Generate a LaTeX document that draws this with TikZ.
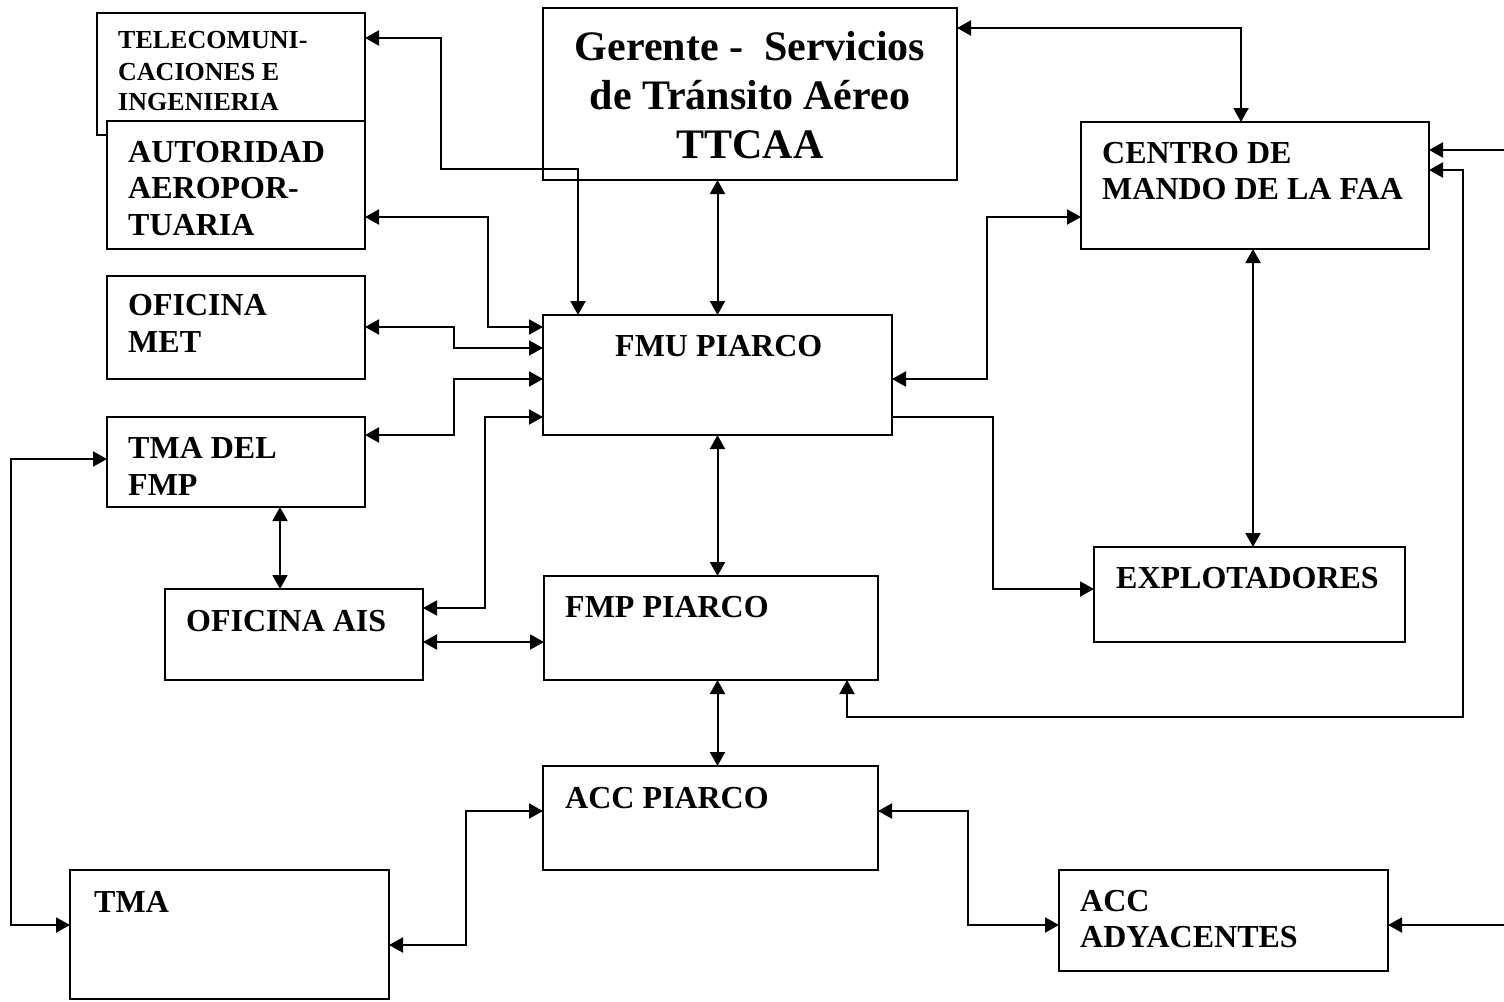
\documentclass[tikz,border=0pt]{standalone}
\usepackage{fontspec}
\setmainfont{Liberation Serif}
\usetikzlibrary{arrows.meta}
\tikzset{
  box/.style={draw, line width=2pt, fill=white, inner sep=0pt, outer sep=0pt, anchor=north west},
  lbl/.style={inner sep=0pt, anchor=base west, font=\bfseries\fontsize{32}{38}\selectfont},
  smalllbl/.style={lbl, font=\bfseries\fontsize{26}{31}\selectfont},
  biglbl/.style={inner sep=0pt, anchor=base, font=\bfseries\fontsize{42}{49}\selectfont},
  tip/.style={Triangle[length=14pt,width=15pt]},
  link/.style={draw, line width=2pt, {Triangle[length=14pt,width=15pt]}-{Triangle[length=14pt,width=15pt]}},
  link1/.style={draw, line width=2pt, -{Triangle[length=14pt,width=15pt]}}
}
\begin{document}
\begin{tikzpicture}[x=1pt,y=-1pt]
\useasboundingbox (0,0) rectangle (1504,1001);
\fill[white] (0,0) rectangle (1504,1001);

% boxes
\node[box, minimum width=268pt, minimum height=122pt] (tele) at (97,13) {};
\node[box, minimum width=258pt, minimum height=128pt] (auto) at (107,121) {};
\node[box, minimum width=258pt, minimum height=103pt] (met) at (107,276) {};
\node[box, minimum width=258pt, minimum height=90pt] (tmafmp) at (107,417) {};
\node[box, minimum width=258pt, minimum height=91pt] (ais) at (165,589) {};
\node[box, minimum width=319pt, minimum height=129pt] (tma) at (70,870) {};
\node[box, minimum width=414pt, minimum height=172pt] (ger) at (543,8) {};
\node[box, minimum width=349pt, minimum height=120pt] (fmu) at (543,315) {};
\node[box, minimum width=334pt, minimum height=104pt] (fmp) at (544,576) {};
\node[box, minimum width=335pt, minimum height=104pt] (acc) at (543,766) {};
\node[box, minimum width=348pt, minimum height=127pt] (centro) at (1081,122) {};
\node[box, minimum width=311pt, minimum height=95pt] (explot) at (1094,547) {};
\node[box, minimum width=329pt, minimum height=101pt] (accady) at (1059,870) {};

% texts
\node[smalllbl] (tele1) at (118,48) {TELECOMUNI-};
\node[smalllbl] (tele2) at (118,80) {CACIONES E};
\node[smalllbl] (tele3) at (118,110) {INGENIERIA};
\node[lbl] (auto1) at (128,162) {AUTORIDAD};
\node[lbl] (auto2) at (128,198) {AEROPOR-};
\node[lbl] (auto3) at (128,235) {TUARIA};
\node[lbl] (met1) at (128,315) {OFICINA};
\node[lbl] (met2) at (128,352) {MET};
\node[lbl] (tmafmp1) at (128,458) {TMA DEL};
\node[lbl] (tmafmp2) at (128,495) {FMP};
\node[lbl] (ais1) at (186,631) {OFICINA AIS};
\node[lbl] (tma1) at (94,912) {TMA};
\node[biglbl] (ger1) at (750,60) {Gerente -\ \ Servicios};
\node[biglbl] (ger2) at (750,109) {de Tránsito Aéreo};
\node[biglbl] (ger3) at (750,158) {TTCAA};
\node[lbl] (fmu1) at (615,356) {FMU PIARCO};
\node[lbl] (fmp1) at (565,617) {FMP PIARCO};
\node[lbl] (acc1) at (565,808) {ACC PIARCO};
\node[lbl] (centro1) at (1102,163) {CENTRO DE};
\node[lbl] (centro2) at (1102,199) {MANDO DE LA FAA};
\node[lbl] (explot1) at (1116,588) {EXPLOTADORES};
\node[lbl] (accady1) at (1080,911) {ACC};
\node[lbl] (accady2) at (1080,947) {ADYACENTES};

% free ends at the right edge
\coordinate (edgeA) at (1504,150);
\coordinate (edgeB) at (1504,925);

% connectors
\draw[link] ([shift={(0,25)}]tele.north east) -- ++(76,0) -- ++(0,131) -| ([shift={(35,0)}]fmu.north west);
\draw[link] ([shift={(0,96)}]auto.north east) -- ++(123,0) |- ([shift={(0,12)}]fmu.north west);
\draw[link] ([shift={(0,51)}]met.north east) -- ++(89,0) |- ([shift={(0,33)}]fmu.north west);
\draw[link] ([shift={(0,18)}]tmafmp.north east) -- ++(89,0) |- ([shift={(0,64)}]fmu.north west);
\draw[link] ([shift={(0,19)}]ais.north east) -- ++(62,0) |- ([shift={(0,102)}]fmu.north west);
\draw[link] ([shift={(0,53)}]ais.north east) -- ([shift={(0,66)}]fmp.north west);
\draw[link] ([shift={(44,0)}]tmafmp.south) -- ([shift={(-14,0)}]ais.north);
\draw[link] ([shift={(0,42)}]tmafmp.north west) -- ++(-96,0) |- ([shift={(0,55)}]tma.north west);
\draw[link] ([shift={(0,75)}]tma.north east) -- ++(77,0) |- ([shift={(0,45)}]acc.north west);
\draw[link] ([shift={(0,45)}]acc.north east) -- ++(90,0) |- ([shift={(0,55)}]accady.north west);
\draw[link1] (edgeB) -- ([shift={(0,55)}]accady.north east);
\draw[link] (ger.south -| fmu.north) -- (fmu.north);
\draw[link] (fmu.south) -- (fmp.north -| fmu.south);
\draw[link] (fmp.south -| fmu.south) -- (acc.north -| fmu.south);
\draw[link] ([shift={(0,20)}]ger.north east) -| ([shift={(160,0)}]centro.north west);
\draw[link] ([shift={(0,64)}]fmu.north east) -- ++(95,0) |- ([shift={(0,95)}]centro.north west);
\draw[link] ([shift={(-2,0)}]centro.south) -- ([shift={(-2,0)}]centro.south |- explot.north);
\draw[link1] ([shift={(0,102)}]fmu.north east) -- ++(101,0) |- ([shift={(0,42)}]explot.north west);
\draw[link1] (edgeA) -- ([shift={(0,28)}]centro.north east);
\draw[link] ([shift={(0,48)}]centro.north east) -- ++(34,0) -- ++(0,547) -| ([shift={(-31,0)}]fmp.south east);
\end{tikzpicture}
\end{document}
